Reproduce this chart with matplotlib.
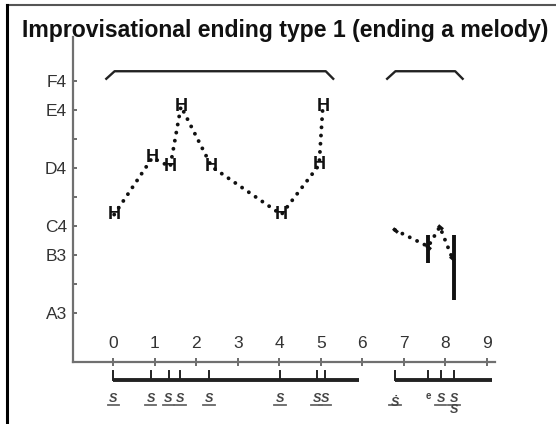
import matplotlib
matplotlib.use("Agg")
import matplotlib.pyplot as plt
from matplotlib.lines import Line2D

plt.rcParams['font.family'] = ['Liberation Sans', 'DejaVu Sans']

# ---- data ----
title = "Improvisational ending type 1 (ending a melody)"
pitch_ticks = [57, 58, 59, 60, 61, 62, 63, 64, 65]
pitch_labels = ["A3", "", "B3", "C4", "", "D4", "", "E4", "F4"]
time_ticks = [0, 1, 2, 3, 4, 5, 6, 7, 8, 9]

# phrase 1: sung notes (H marks)
h_time = [0.02, 0.94, 1.37, 1.63, 2.37, 4.05, 4.96, 5.05]
h_pitch = [60.40, 62.36, 62.05, 64.13, 62.05, 60.40, 62.11, 64.13]

# phrase 2: contour points
p2_time = [6.79, 7.59, 7.87, 8.17]
p2_pitch = [59.87, 59.30, 59.98, 58.90]

# vertical pitch ranges in phrase 2
bar_time = [7.59, 8.22]
bar_low = [58.72, 57.46]
bar_high = [59.70, 59.70]

# phrase brackets (start, end)
bracket_spans = [(-0.17, 5.30), (6.60, 8.42)]

# onset timeline below the axis
timeline_spans = [(0.0, 5.92), (6.79, 9.12)]
onsets_1 = [0.0, 0.90, 1.33, 1.61, 2.31, 4.02, 4.90, 5.10]
onsets_2 = [6.79, 7.59, 7.89, 8.21]

# ---- figure ----
W, H = 556, 424
fig = plt.figure(figsize=(W / 100, H / 100), dpi=100)

# axes placed in pixel terms
ax_l, ax_r, ax_t, ax_b = 72.7, 495.0, 36.7, 362.0
ax = fig.add_axes([ax_l / W, 1 - ax_b / H, (ax_r - ax_l) / W, (ax_b - ax_t) / H])
ax.set_xlim(-0.98, 9.2)
ax.set_ylim(55.32, 66.53)
ax.patch.set_alpha(0)

for s in ["top", "right"]:
    ax.spines[s].set_visible(False)
for s in ["left", "bottom"]:
    ax.spines[s].set_color("#707070")
    ax.spines[s].set_linewidth(1.6)

ax.set_yticks(pitch_ticks)
ax.set_yticklabels(pitch_labels, fontsize=12.5, color="#333333")
ax.tick_params(axis="y", direction="in", length=3, width=1.3, color="#606060", pad=4)

ax.set_xticks(time_ticks)
ax.set_xticklabels([str(t) for t in time_ticks], fontsize=12.5, color="#333333")
ax.tick_params(axis="x", direction="inout", length=6, width=1.3, color="#606060", pad=-22)

# title
fig.text(22 / W, 1 - 31 / H, title, fontsize=16.6, fontweight="bold", ha="left",
         va="center", color="#111111")

# frame of the picture
fig.add_artist(Line2D([7 / W, 1], [1 - 4.5 / H, 1 - 4.5 / H], transform=fig.transFigure,
                      color="#555555", lw=1.5))
fig.add_artist(Line2D([7 / W, 7 / W], [0, 1 - 4.5 / H], transform=fig.transFigure,
                      color="#000000", lw=2.2))

dot = dict(color="#111111", lw=2.8, linestyle=(0, (0.01, 2.1)), dash_capstyle="round",
           solid_capstyle="round")

# phrase 1 dotted contour + H marks
ax.plot(h_time, h_pitch, **dot, zorder=2)
for t, p in zip(h_time, h_pitch):
    ax.text(t, p, "H", fontsize=13, fontweight="bold", ha="center", va="center",
            color="#111111", zorder=3)

# phrase 2 contour
ax.plot(p2_time, p2_pitch, **dot, zorder=2)
ax.plot(p2_time, p2_pitch, linestyle="none", marker=(2, 0, 50), markersize=4.5,
        markeredgewidth=2.4, color="#111111", zorder=3)
for t, lo, hi in zip(bar_time, bar_low, bar_high):
    ax.plot([t, t], [lo, hi], color="#111111", lw=2.8, solid_capstyle="butt", zorder=3)

# phrase brackets
y_flat, y_end = 65.34, 65.08
for a, b in bracket_spans:
    ax.plot([a, a + 0.2, b - 0.18, b], [y_end, y_flat, y_flat, y_end], color="#222222",
            lw=1.7, clip_on=False, solid_joinstyle="round")

# timeline below axis
y_bar, y_tick_top, y_lab, y_under = 54.70, 55.00, 54.04, 53.84
for a, b in timeline_spans:
    ax.plot([a, b], [y_bar, y_bar], color="#222222", lw=2.8, clip_on=False,
            solid_capstyle="butt")
for t in onsets_1 + onsets_2:
    ax.plot([t, t], [y_bar, y_tick_top], color="#222222", lw=1.4, clip_on=False)

lab_style = dict(fontsize=9, fontstyle="italic", fontweight="bold", ha="center",
                 va="center", color="#444444", clip_on=False)
labels_1 = ["S"] * len(onsets_1)
labels_2 = ["Ṡ", "e", "S", "S"]
for t, lab in zip(onsets_1, labels_1):
    ax.text(t, y_lab, lab, **lab_style)
    ax.plot([t - 0.14, t + 0.14], [y_under, y_under], color="#666666", lw=1.3, clip_on=False)
for i, (t, lab) in enumerate(zip(onsets_2, labels_2)):
    if lab == "e":
        ax.text(t, y_lab + 0.1, lab, fontsize=7, fontweight="bold", ha="center",
                va="center", color="#444444", clip_on=False)
        continue
    ax.text(t, y_lab - (0.12 if i == 0 else 0), lab, **lab_style)
    ax.plot([t - 0.14, t + 0.14], [y_under, y_under], color="#666666", lw=1.3, clip_on=False)
    if i == 3:
        ax.text(t, y_lab - 0.38, lab, **lab_style)

fig.savefig("out.png", dpi=100)
